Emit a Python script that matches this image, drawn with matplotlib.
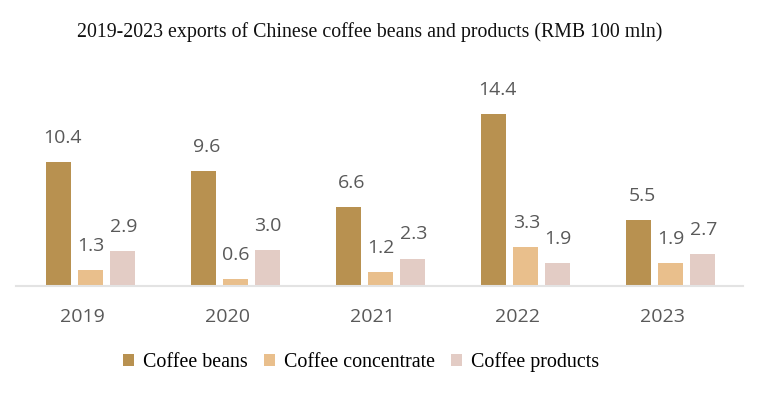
import matplotlib.pyplot as plt
from matplotlib.patches import Patch
from matplotlib.transforms import ScaledTranslation
import numpy as np

# datos
years = ['2019', '2020', '2021', '2022', '2023']
beans = [10.4, 9.6, 6.6, 14.4, 5.5]
concentrate = [1.3, 0.6, 1.2, 3.3, 1.9]
products = [2.9, 3.0, 2.3, 1.9, 2.7]

series_names = ['Coffee beans', 'Coffee concentrate', 'Coffee products']
colors = ['#B89150', '#E9BF8C', '#E3CCC5']

fig = plt.figure(figsize=(7.69, 3.94), dpi=100)
ax = fig.add_axes([16 / 769, 108 / 394, 727 / 769, 226 / 394])

x = np.arange(len(years))
width = 0.172
step = 0.2207
label_dx = [2.5, 0.5, 0.5]  # desplazamiento horizontal de etiquetas (pt)

for i, (vals, c) in enumerate(zip([beans, concentrate, products], colors)):
    pos = x + (i - 1) * step
    ax.bar(pos, vals, width, color=c)
    for p, v in zip(pos, vals):
        ax.annotate(f'{v:.1f}', (p, v), xytext=(label_dx[i], 17.3), textcoords='offset points',
                    ha='center', va='center', fontsize=14, color='#595959',
                    family='Open Sans')

ax.set_xlim(-0.514, 4.5)
ax.set_ylim(0, 18.91)
for s in ['top', 'right', 'left']:
    ax.spines[s].set_visible(False)
ax.spines['bottom'].set_color('#E3E3E3')
ax.spines['bottom'].set_linewidth(1.5)
ax.set_yticks([])
ax.set_xticks(x)
ax.set_xticklabels(years, fontsize=14, color='#595959', family='Open Sans')
ax.tick_params(axis='x', length=0, pad=16)
# años ligeramente a la izquierda, como en el original
shift = ScaledTranslation(-8 / 100, 0, fig.dpi_scale_trans)
for lbl in ax.get_xticklabels():
    lbl.set_transform(lbl.get_transform() + shift)

fig.text(370 / 769, 1 - 32 / 394, '2019-2023 exports of Chinese coffee beans and products (RMB 100 mln)',
         ha='center', va='center', fontsize=14.3, family='Liberation Serif', color='#111111')

handles = [Patch(facecolor=c, edgecolor='none') for c in colors]
fig.legend(handles, series_names, loc='center', bbox_to_anchor=(361 / 769, 1 - 362 / 394),
           ncol=3, frameon=False, handlelength=0.55, handleheight=0.55, handletextpad=0.45,
           columnspacing=0.8, prop={'family': 'Liberation Serif', 'size': 14.4})

plt.savefig('out.png', dpi=100)
